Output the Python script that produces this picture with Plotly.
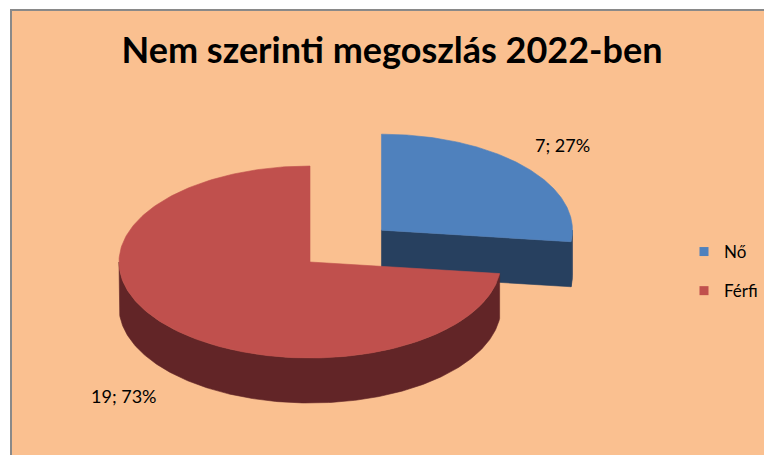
import numpy as np
import plotly.graph_objects as go

# ---- data ----
categories = ["Nő", "Férfi"]
values = [7, 19]
title_text = "Nem szerinti megoszlás 2022-ben"

# ---- style ----
top_colors = ["#4F81BD", "#C0504D"]
side_colors = ["#27405F", "#622527"]
BG = "#FAC090"
BORDER = "#898989"
W, H = 764, 455
CX, CY = 310, 262        # pie centre (pixels)
RX, RY = 191, 96         # ellipse radii
DEPTH = 45               # pie thickness
EXPLODE = [0.5, 0.0]     # explosion as fraction of radius
LABEL_K = 1.3
FONT = "Lato"

total = sum(values)
fracs = [v / total for v in values]
starts = np.cumsum([0] + fracs[:-1]) * 360
ends = starts + np.array(fracs) * 360


def px_x(x):
    return x / W


def px_y(y):
    return 1 - y / H


def pt(c, a, z=0.0):
    t = np.radians(a)
    return c[0] + RX * np.sin(t), c[1] - RY * np.cos(t) + z


def rim(c, a0, a1, z=0.0, n=240):
    t = np.radians(np.linspace(a0, a1, n))
    return list(c[0] + RX * np.sin(t)), list(c[1] - RY * np.cos(t) + z)


fig = go.Figure()

slices = []
for i, v in enumerate(values):
    mid = (starts[i] + ends[i]) / 2
    e = EXPLODE[i]
    c = (CX + e * RX * np.sin(np.radians(mid)), CY - e * RY * np.cos(np.radians(mid)))
    slices.append((c[1], i, c, mid))
slices.sort()


def poly(xs, ys, color):
    fig.add_trace(go.Scatter(x=xs + [xs[0]], y=ys + [ys[0]], mode="lines", fill="toself",
                             fillcolor=color, line=dict(color=color, width=0.6),
                             hoverinfo="skip", showlegend=False))


for _, i, c, mid in slices:
    a0, a1 = starts[i], ends[i]
    # cut faces facing the viewer
    if np.sin(np.radians(a1)) > 1e-6:
        px, py = pt(c, a1)
        poly([c[0], px, px, c[0]], [c[1], py, py + DEPTH, c[1] + DEPTH], side_colors[i])
    if -np.sin(np.radians(a0)) > 1e-6:
        px, py = pt(c, a0)
        poly([c[0], px, px, c[0]], [c[1], py, py + DEPTH, c[1] + DEPTH], side_colors[i])
    # outer wall (front half)
    lo, hi = max(a0, 90), min(a1, 270)
    if hi > lo:
        tx, ty = rim(c, lo, hi)
        bx, by = rim(c, hi, lo, DEPTH)
        poly(tx + bx, ty + by, side_colors[i])
    # top face
    rx_, ry_ = rim(c, a0, a1)
    poly([c[0]] + rx_, [c[1]] + ry_, top_colors[i])

# data labels
for _, i, c, mid in slices:
    t = np.radians(mid)
    front = np.cos(t) < 0
    lx = c[0] + LABEL_K * RX * np.sin(t)
    ly = c[1] - LABEL_K * RY * np.cos(t) + (DEPTH if front else 0)
    pct = round(100 * values[i] / total)
    fig.add_annotation(x=lx, y=ly, text=f"{values[i]}; {pct}%", showarrow=False,
                       font=dict(family=FONT, size=18, color="#000000"),
                       xanchor="center", yanchor="middle",
                       xshift=0 if front else -5, yshift=-6 if front else 2)

# legend entries
for i, name in enumerate(categories):
    fig.add_trace(go.Scatter(x=[None], y=[None], mode="markers", name=name,
                             legendgroup=f"g{i}",
                             marker=dict(symbol="square", size=9, color=top_colors[i])))

# chart area background and its border (top and left edges visible)
fig.add_shape(type="rect", xref="paper", yref="paper", x0=px_x(11), y0=0, x1=1, y1=px_y(10),
              fillcolor=BG, line=dict(width=0), layer="below")
fig.add_shape(type="line", xref="paper", yref="paper", x0=px_x(10), y0=px_y(10), x1=1, y1=px_y(10),
              line=dict(color=BORDER, width=2), layer="below")
fig.add_shape(type="line", xref="paper", yref="paper", x0=px_x(11), y0=px_y(10), x1=px_x(11), y1=0,
              line=dict(color=BORDER, width=2), layer="below")

fig.update_layout(
    width=W, height=H,
    margin=dict(l=0, r=0, t=0, b=0, autoexpand=False),
    paper_bgcolor="white", plot_bgcolor="rgba(0,0,0,0)",
    xaxis=dict(range=[0, W], visible=False, fixedrange=True),
    yaxis=dict(range=[H, 0], visible=False, fixedrange=True),
    title=dict(text=f"<b>{title_text}</b>", x=px_x(392), xanchor="center",
               y=px_y(50), yanchor="middle",
               font=dict(family=FONT, size=36, color="#000000")),
    legend=dict(x=px_x(684), y=px_y(234), xanchor="left", yanchor="top",
                bgcolor="rgba(0,0,0,0)", font=dict(family=FONT, size=17, color="#000000"),
                tracegroupgap=14, traceorder="grouped"),
    showlegend=True,
)

fig.write_html("out.html", config={"displayModeBar": False},
               post_script="document.body.style.margin='0';document.body.style.overflow='hidden';")
